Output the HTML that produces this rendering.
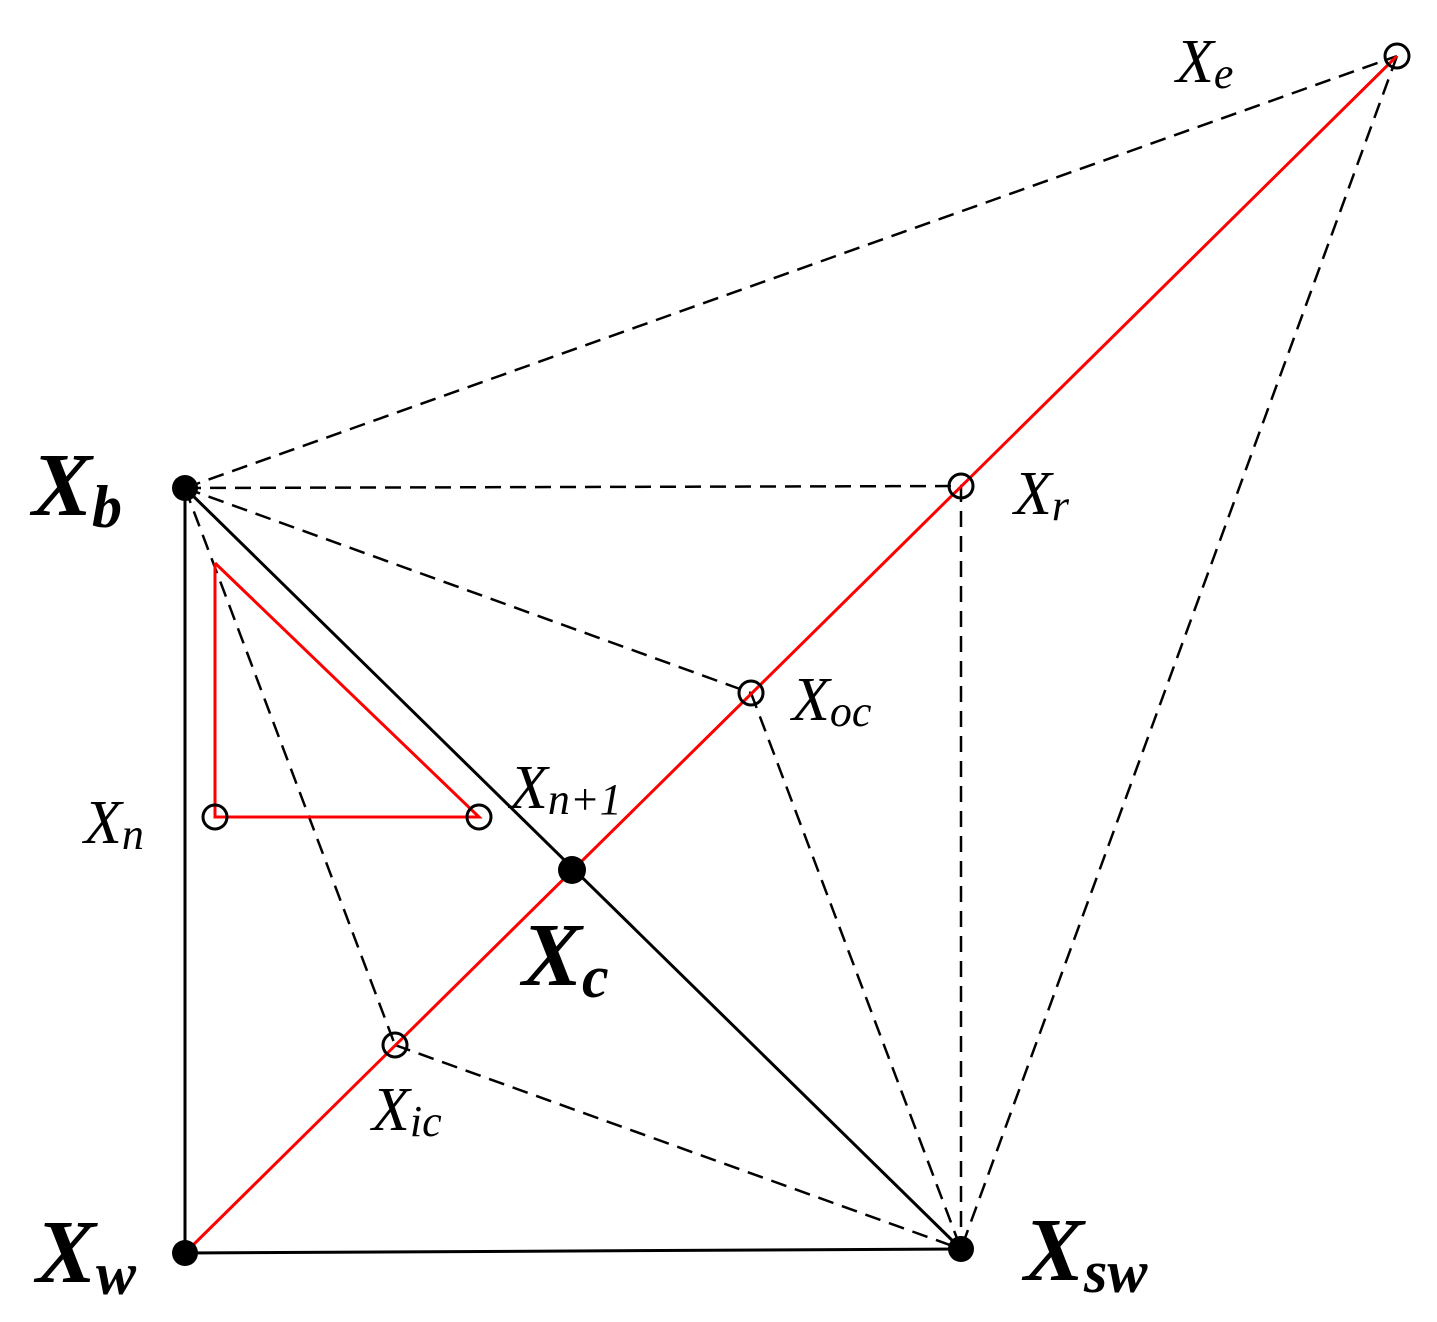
<!DOCTYPE html>
<html><head><style>html,body{margin:0;padding:0;background:#fff} text{font-family:"Liberation Serif","Times New Roman",serif}</style></head>
<body>
<svg width="1437" height="1317" viewBox="0 0 1437 1317" xmlns="http://www.w3.org/2000/svg">
<rect width="1437" height="1317" fill="#fff"/>
<g stroke="#000" stroke-width="3" fill="none">
<line x1="185" y1="488" x2="185" y2="1253"/>
<line x1="185" y1="1253" x2="961" y2="1249"/>
<line x1="185" y1="488" x2="961" y2="1249"/>
</g>
<g stroke="#000" stroke-width="2.5" fill="none" stroke-dasharray="16,9">
<line x1="185" y1="488" x2="1397" y2="56"/>
<line x1="185" y1="488" x2="961" y2="486"/>
<line x1="185" y1="488" x2="751" y2="693"/>
<line x1="185" y1="488" x2="395" y2="1045"/>
<line x1="961" y1="486" x2="961" y2="1249"/>
<line x1="751" y1="693" x2="961" y2="1249"/>
<line x1="395" y1="1045" x2="961" y2="1249"/>
<line x1="1397" y1="56" x2="961" y2="1249"/>
</g>
<g stroke="#f00" stroke-width="3" fill="none">
<line x1="185" y1="1253" x2="1397" y2="56"/>
<polyline points="215,563 215,817 479,817 215,563"/>
</g>
<g fill="#000">
<circle cx="185" cy="488" r="13"/>
<circle cx="185" cy="1253" r="13"/>
<circle cx="961" cy="1249" r="13"/>
<circle cx="572" cy="870" r="14"/>
</g>
<g fill="none" stroke="#000" stroke-width="3">
<circle cx="1397" cy="56" r="12"/>
<circle cx="961" cy="486" r="12"/>
<circle cx="751" cy="693" r="12"/>
<circle cx="395" cy="1045" r="12"/>
<circle cx="215" cy="817" r="12"/>
<circle cx="479" cy="817" r="12"/>
</g>
<g font-weight="bold" font-style="italic" fill="#000">
<text x="32" y="515" font-size="90">X<tspan font-size="60" dy="12">b</tspan></text>
<text x="36" y="1282" font-size="90">X<tspan font-size="60" dy="12">w</tspan></text>
<text x="1024" y="1280" font-size="90">X<tspan font-size="60" dy="12">sw</tspan></text>
<text x="522" y="985" font-size="90">X<tspan font-size="60" dy="12">c</tspan></text>
</g>
<g font-style="italic" fill="#000">
<text x="1176" y="82" font-size="62">X<tspan font-size="44" dy="6">e</tspan></text>
<text x="1014" y="514" font-size="62">X<tspan font-size="44" dy="6">r</tspan></text>
<text x="792" y="720" font-size="62">X<tspan font-size="44" dy="6">oc</tspan></text>
<text x="84" y="843" font-size="62">X<tspan font-size="44" dy="6">n</tspan></text>
<text x="510" y="808" font-size="62">X<tspan font-size="44" dy="6">n+1</tspan></text>
<text x="372" y="1130" font-size="62">X<tspan font-size="44" dy="6">ic</tspan></text>
</g>
</svg>
</body></html>
